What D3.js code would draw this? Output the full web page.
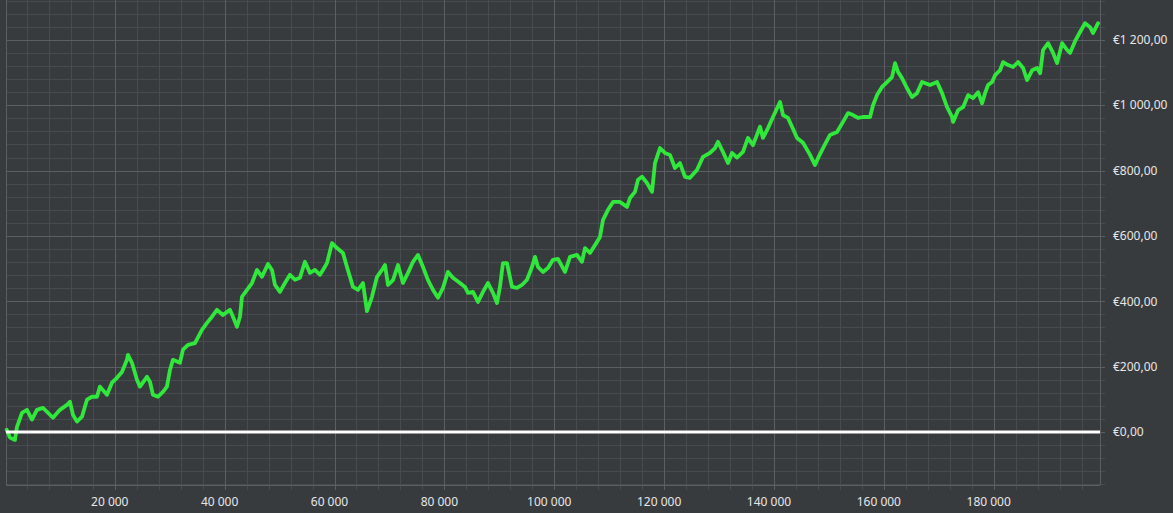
<!DOCTYPE html>
<html><head><meta charset="utf-8">
<script src="https://cdn.jsdelivr.net/npm/d3@7/dist/d3.min.js"></script>
<style>
html,body{margin:0;padding:0;background:#383b3e;}
svg{display:block;}
</style></head>
<body>
<svg id="c" width="1173" height="513"></svg>
<script>
// trades (x) and cumulative profit (y)
const tradeCount = [320,920,1830,2200,3110,4020,4930,5830,6930,8200,8750,10020,11300,11840,12390,13120,14030,14940,15850,16760,17300,18580,19490,20400,21310,22220,22400,23130,24040,24590,25860,26410,26950,27860,28770,29500,30050,30590,31870,32420,33330,34600,35870,36790,37700,38600,39700,40970,41520,42250,42790,43160,44070,44980,45890,46800,47890,48620,49160,50070,50980,51890,52800,53710,54620,55530,56440,57350,57900,58630,59540,60450,61540,62270,62820,63360,64270,65180,65910,66820,67740,68650,69190,69740,70650,71560,72470,73380,74290,75200,76110,77020,77930,78840,79750,80650,81560,82840,83750,84300,85210,86120,87030,87940,88850,89580,90120,90670,91400,92310,93220,94130,95040,95950,96500,97040,97950,98860,99770,100680,101960,102870,104140,105050,105600,106510,107420,108330,108880,109790,110700,111970,113250,113790,114700,115250,115980,116890,117800,118340,119250,120160,121070,121980,122890,123800,124710,125980,127080,128350,129260,129810,130720,131630,132360,133270,134360,135270,136180,137460,138000,138910,139820,141100,141650,142560,143290,144200,145290,146570,147470,148020,148930,150200,151480,152570,153480,154390,155300,156210,157490,158030,158760,159670,160580,161490,162040,162580,163310,164220,165130,166040,166950,168410,169690,170600,171510,172420,172610,173520,174430,175340,176250,177160,177890,178430,178980,179710,180250,181160,181710,182620,183530,184440,185350,186080,186990,187900,188450,188990,189900,190810,191540,192450,193360,193900,194810,195720,196630,197540,198090,199000];
const profit = [7,-17,-24,16,59,68,38,68,74,53,44,68,83,93,53,32,47,99,108,108,139,114,151,166,184,221,236,212,160,139,169,154,114,108,123,139,190,221,212,252,267,272,313,334,353,374,358,374,353,322,353,414,435,456,496,475,514,496,450,429,456,481,466,472,521,487,496,481,496,517,578,563,548,505,475,444,435,456,370,414,475,496,511,450,465,511,456,487,521,542,505,465,435,411,441,490,472,456,444,426,429,398,429,456,426,395,444,517,517,444,441,450,466,505,536,505,490,502,527,530,490,536,542,521,563,548,572,597,649,680,704,704,689,716,735,772,781,762,735,823,869,854,848,808,823,781,778,802,842,854,869,888,857,823,854,840,857,900,878,934,900,930,964,1010,970,961,934,900,885,848,817,838,869,909,918,949,976,970,961,964,964,1000,1031,1056,1071,1086,1129,1102,1083,1052,1025,1037,1071,1062,1071,1037,994,964,949,985,994,1031,1022,1040,1006,1037,1062,1071,1092,1107,1132,1123,1117,1132,1114,1077,1107,1114,1098,1169,1190,1160,1129,1190,1169,1160,1196,1224,1251,1239,1221,1251];
const xMajorTicks = [20000,40000,60000,80000,100000,120000,140000,160000,180000];
const yMajorTicks = [0,200,400,600,800,1000,1200];

const L = 6, R = 1100, T = 0, B = 485;
const svg = d3.select("#c");

const x = d3.scaleLinear().domain([200, 199350]).range([L, R]);
const y = d3.scaleLinear().domain([-162, 1322]).range([B, T]);

const loc = d3.formatLocale({decimal: ",", thousands: "\u00a0", grouping: [3], currency: ["€", ""]});
const fy = loc.format("$,.2f");
const fx = loc.format(",d");

const xMinor = d3.range(4000, 199350, 4000);
const yMinor = d3.range(-160, 1322, 40);

const g = svg.append("g");
g.selectAll(".xm").data(xMinor).join("line")
  .attr("x1", d => Math.round(x(d)) + 0.5).attr("x2", d => Math.round(x(d)) + 0.5)
  .attr("y1", T).attr("y2", B + 5)
  .attr("stroke", "#474b4f").attr("stroke-width", 1);
g.selectAll(".ym").data(yMinor).join("line")
  .attr("y1", d => Math.round(y(d)) + 0.5).attr("y2", d => Math.round(y(d)) + 0.5)
  .attr("x1", L).attr("x2", R + 5)
  .attr("stroke", "#474b4f").attr("stroke-width", 1);
g.selectAll(".xM").data(xMajorTicks).join("line")
  .attr("x1", d => Math.round(x(d)) + 0.5).attr("x2", d => Math.round(x(d)) + 0.5)
  .attr("y1", T).attr("y2", B + 5)
  .attr("stroke", "#5b5f63").attr("stroke-width", 1);
g.selectAll(".yM").data(yMajorTicks).join("line")
  .attr("y1", d => Math.round(y(d)) + 0.5).attr("y2", d => Math.round(y(d)) + 0.5)
  .attr("x1", L).attr("x2", R + 5)
  .attr("stroke", "#5b5f63").attr("stroke-width", 1);
g.append("line").attr("x1", L + 0.5).attr("x2", L + 0.5).attr("y1", T).attr("y2", B).attr("stroke", "#5b5f63");
g.append("line").attr("x1", R + 0.5).attr("x2", R + 0.5).attr("y1", T).attr("y2", B).attr("stroke", "#5b5f63");
g.append("line").attr("x1", L).attr("x2", R).attr("y1", B + 0.5).attr("y2", B + 0.5).attr("stroke", "#5b5f63");

g.selectAll(".yl").data(yMajorTicks).join("text")
  .attr("x", 1113).attr("y", d => y(d)).attr("dy", "0.35em")
  .attr("fill", "#e6e6e6").attr("font-family", "'Noto Sans', sans-serif").attr("font-size", 12)
  .text(d => fy(d));
g.selectAll(".xl").data(xMajorTicks).join("text")
  .attr("x", d => x(d) - 5).attr("y", 502).attr("dy", "0.35em").attr("text-anchor", "middle")
  .attr("fill", "#e6e6e6").attr("font-family", "'Noto Sans', sans-serif").attr("font-size", 12)
  .text(d => fx(d));

const data = tradeCount.map((t, i) => [t, profit[i]]);
svg.append("path").datum(data)
  .attr("fill", "none").attr("stroke", "#30e83b").attr("stroke-width", 3.8)
  .attr("stroke-linejoin", "round").attr("stroke-linecap", "round")
  .attr("d", d3.line().x(d => x(d[0])).y(d => y(d[1])));

svg.append("line").attr("x1", L).attr("x2", R).attr("y1", y(0)).attr("y2", y(0))
  .attr("stroke", "#ffffff").attr("stroke-width", 3);
</script>
</body></html>
